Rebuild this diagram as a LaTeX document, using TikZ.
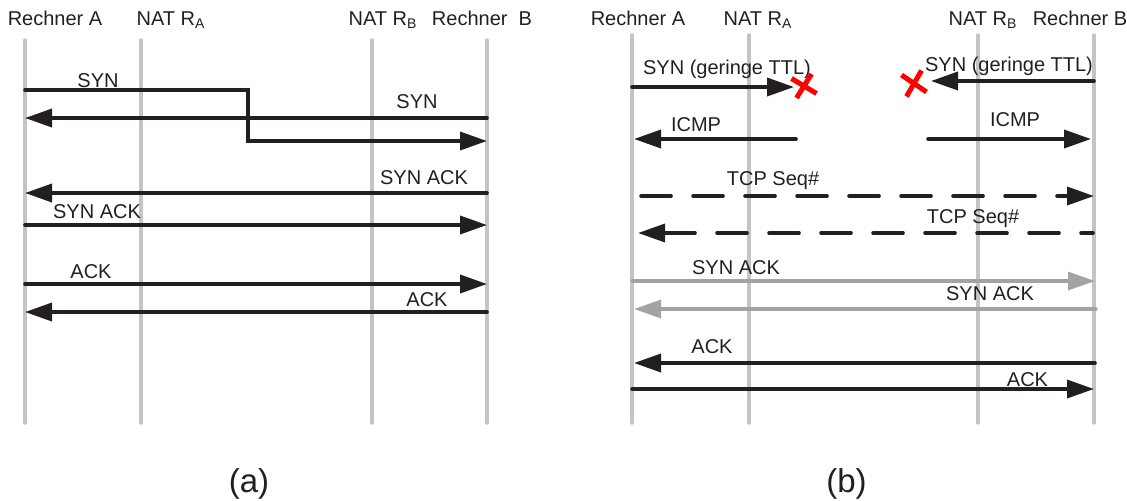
\documentclass[tikz,border=0pt]{standalone}
\usepackage{fontspec}
\setmainfont{Liberation Sans}
\usetikzlibrary{arrows.meta}

\definecolor{ink}{HTML}{231F20}
\definecolor{lanegray}{HTML}{C4C4C4}
\definecolor{msggray}{HTML}{A3A3A3}

\begin{document}
\begin{tikzpicture}[
  x=0.5pt, y=-0.5pt,
  font=\fontsize{10}{12}\selectfont, text=ink,
  lifeline/.style={draw=lanegray,line width=1.75pt,line cap=round},
  msg/.style={-{Triangle[length=13.5pt,width=9pt]},draw=ink,line width=1.8pt,line cap=round},
  msgdash/.style={msg,dash pattern=on 15pt off 11pt},
  msglight/.style={msg,draw=msggray,line width=1.55pt},
  drop/.style={draw=red,line width=2.5pt},
  lbl/.style={anchor=base,inner sep=0pt},
  caption/.style={anchor=base,inner sep=0pt,font=\fontsize{16.5}{20}\selectfont},
]
  \useasboundingbox (0,0) rectangle (1127,500);

  % Panel (a): hosts and NAT routers.
  \node[lbl] (ahA)  at (55,25)  {Rechner A};
  \node[lbl] (ahRA) at (171,25) {NAT R\textsubscript{A}};
  \node[lbl] (ahRB) at (383,25) {NAT R\textsubscript{B}};
  \node[lbl] (ahB)  at (482,25) {Rechner\ \ B};

  \coordinate (aAt)  at (25,40);  \coordinate (aAb)  at (25,423);
  \coordinate (aRAt) at (141,40); \coordinate (aRAb) at (141,423);
  \coordinate (aRBt) at (372,40); \coordinate (aRBb) at (372,423);
  \coordinate (aBt)  at (487,40); \coordinate (aBb)  at (487,423);
  \draw[lifeline] (aAt) -- (aAb);
  \draw[lifeline] (aRAt) -- (aRAb);
  \draw[lifeline] (aRBt) -- (aRBb);
  \draw[lifeline] (aBt) -- (aBb);

  % Simultaneous open.
  \coordinate (a1s) at (25,90);  \coordinate (a1k) at (248,90);  \coordinate (a1e) at (487,141);
  \coordinate (a2s) at (487,118); \coordinate (a2e) at (25,118);
  \draw[msg] (a1s) -- (a1k) |- (a1e);
  \draw[msg] (a2s) -- (a2e);
  \node[lbl] (a1l) at (98,87)   {SYN};
  \node[lbl] (a2l) at (417,108.5) {SYN};

  \coordinate (a3s) at (487,193); \coordinate (a3e) at (25,193);
  \coordinate (a4s) at (25,225);  \coordinate (a4e) at (487,225);
  \draw[msg] (a3s) -- (a3e);
  \draw[msg] (a4s) -- (a4e);
  \node[lbl] (a3l) at (424,184) {SYN ACK};
  \node[lbl] (a4l) at (97,218)  {SYN ACK};

  \coordinate (a5s) at (25,284);  \coordinate (a5e) at (487,284);
  \coordinate (a6s) at (487,312); \coordinate (a6e) at (25,312);
  \draw[msg] (a5s) -- (a5e);
  \draw[msg] (a6s) -- (a6e);
  \node[lbl] (a5l) at (91,278)  {ACK};
  \node[lbl] (a6l) at (427,306) {ACK};

  \node[caption] (capa) at (249,492) {(a)};

  % Panel (b): hole punching with low TTL.
  \node[lbl] (bhA)  at (638,25)  {Rechner A};
  \node[lbl] (bhRA) at (758,25)  {NAT R\textsubscript{A}};
  \node[lbl] (bhRB) at (983,25)  {NAT R\textsubscript{B}};
  \node[lbl] (bhB)  at (1080,25) {Rechner B};

  \coordinate (bAt)  at (632,35);  \coordinate (bAb)  at (632,423);
  \coordinate (bRAt) at (749,35);  \coordinate (bRAb) at (749,423);
  \coordinate (bRBt) at (978,35);  \coordinate (bRBb) at (978,423);
  \coordinate (bBt)  at (1094,35); \coordinate (bBb)  at (1094,423);
  \draw[lifeline] (bAt) -- (bAb);
  \draw[lifeline] (bRAt) -- (bRAb);
  \draw[lifeline] (bRBt) -- (bRBb);
  \draw[lifeline] (bBt) -- (bBb);

  \coordinate (b1s) at (632,87);  \coordinate (b1e) at (794,87);
  \coordinate (b2s) at (1094,81); \coordinate (b2e) at (931,81);
  \draw[msg] (b1s) -- (b1e);
  \draw[msg] (b2s) -- (b2e);
  \node[lbl] (b1l) at (727,74)    {SYN (geringe TTL)};
  \node[lbl] (b2l) at (1009,71.5) {SYN (geringe TTL)};

  % Dropped packets.
  \coordinate (killA) at (804,86);
  \coordinate (killB) at (914,83.5);
  \draw[drop] ([shift={(-12.5,-7.5)}]killA) -- ([shift={(12.5,7.5)}]killA);
  \draw[drop] ([shift={(7.5,-12)}]killA) -- ([shift={(-7.5,12)}]killA);
  \draw[drop] ([shift={(-12.5,-8.5)}]killB) -- ([shift={(12.5,8.5)}]killB);
  \draw[drop] ([shift={(7.5,-13)}]killB) -- ([shift={(-7.5,13)}]killB);

  \coordinate (b3s) at (796,139); \coordinate (b3e) at (634,139);
  \coordinate (b4s) at (928,139); \coordinate (b4e) at (1091,139);
  \draw[msg] (b3s) -- (b3e);
  \draw[msg] (b4s) -- (b4e);
  \node[lbl] (b3l) at (696,131.5)  {ICMP};
  \node[lbl] (b4l) at (1015,126.5) {ICMP};

  \coordinate (b5s) at (641,196);  \coordinate (b5e) at (1094,196);
  \coordinate (b6s) at (1093,233); \coordinate (b6e) at (638,233);
  \draw[msgdash] (b5s) -- (b5e);
  \draw[msgdash,dash phase=9pt] (b6s) -- (b6e);
  \node[lbl] (b5l) at (773,185.5) {TCP Seq\#};
  \node[lbl] (b6l) at (973,223)   {TCP Seq\#};

  \coordinate (b7s) at (632,281);  \coordinate (b7e) at (1095,281);
  \coordinate (b8s) at (1096,309); \coordinate (b8e) at (634,309);
  \draw[msglight] (b7s) -- (b7e);
  \draw[msglight] (b8s) -- (b8e);
  \node[lbl] (b7l) at (736,274) {SYN ACK};
  \node[lbl] (b8l) at (990,300) {SYN ACK};

  \coordinate (b9s)  at (1095,363); \coordinate (b9e)  at (634,363);
  \coordinate (b10s) at (632,389);  \coordinate (b10e) at (1094,389);
  \draw[msg] (b9s) -- (b9e);
  \draw[msg] (b10s) -- (b10e);
  \node[lbl] (b9l)  at (712,353)    {ACK};
  \node[lbl] (b10l) at (1027.5,386.5) {ACK};

  \node[caption] (capb) at (846.5,492) {(b)};

\end{tikzpicture}
\end{document}
